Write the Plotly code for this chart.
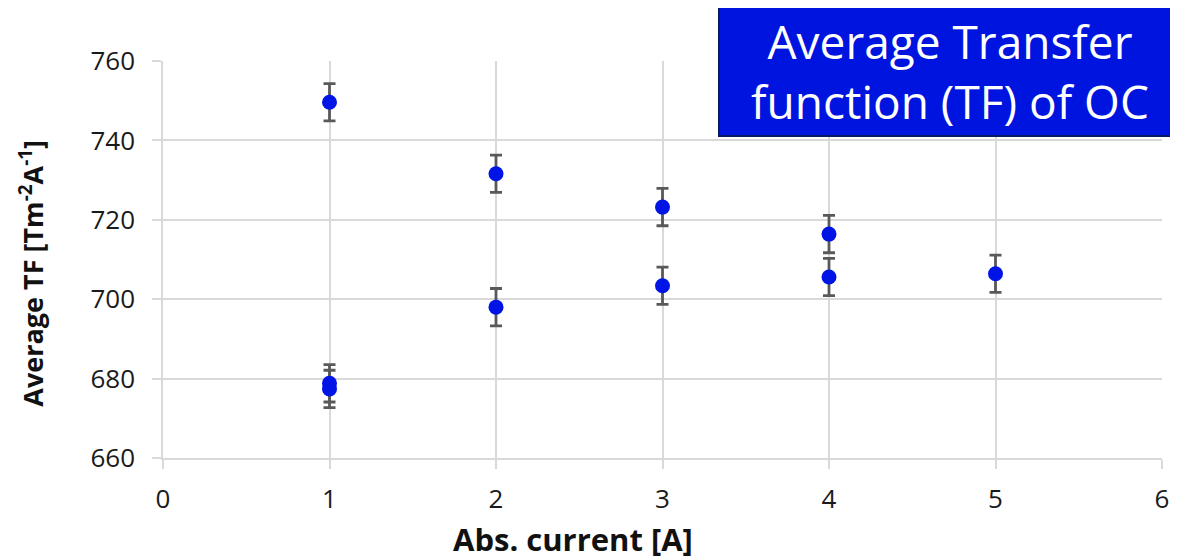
import plotly.graph_objects as go

current = [1, 2, 3, 4, 5, 1, 2, 3, 4, 1]
avg_tf = [749.6, 731.6, 723.2, 716.4, 706.4, 678.8, 698.0, 703.4, 705.6, 677.4]
tf_err = [4.7, 4.7, 4.7, 4.7, 4.7, 4.7, 4.7, 4.7, 4.7, 4.7]

x_ticks = [0, 1, 2, 3, 4, 5, 6]
y_ticks = [660, 680, 700, 720, 740, 760]

font_family = "Open Sans, Noto Sans, Liberation Sans, sans-serif"
grid = "#d9d9d9"

fig = go.Figure()
fig.add_trace(go.Scatter(
    x=current, y=avg_tf, mode="markers",
    marker=dict(color="#0014E6", size=15, line=dict(width=0)),
    error_y=dict(type="data", array=tf_err, visible=True,
                 color="#595959", thickness=2.8, width=6),
    showlegend=False, cliponaxis=False,
))

fig.update_layout(
    width=1170, height=552,
    margin=dict(l=155, r=9, t=53, b=102),
    paper_bgcolor="white", plot_bgcolor="white",
    font=dict(family=font_family, color="#1a1a1a"),
    xaxis=dict(range=[0, 6], tickvals=x_ticks, showgrid=True, gridcolor=grid,
               gridwidth=1.5, zeroline=False, showline=True, linecolor=grid, linewidth=1.5,
               ticks="outside", ticklen=9, tickcolor=grid, tickwidth=1.5,
               ticklabelstandoff=8,
               tickfont=dict(size=26, color="#1a1a1a")),
    yaxis=dict(range=[660, 760], tickvals=y_ticks, showgrid=True, gridcolor=grid,
               gridwidth=1.5, zeroline=False, showline=True, linecolor=grid, linewidth=1.5,
               ticks="outside", ticklen=9, tickcolor=grid, tickwidth=1.5,
               ticklabelstandoff=12,
               tickfont=dict(size=26, color="#1a1a1a")),
    annotations=[
        dict(text="<b>Abs. current [A]</b>", xref="paper", yref="paper",
             x=0.41, y=-0.204, xanchor="center", yanchor="middle", showarrow=False,
             font=dict(size=31, color="#111111", family=font_family)),
        dict(text="<b>Average TF [Tm<sup>-2</sup>A<sup>-1</sup>]</b>", xref="paper", yref="paper",
             x=-0.132, y=0.4647, xanchor="center", yanchor="middle", showarrow=False,
             textangle=-90,
             font=dict(size=27, color="#111111", family=font_family)),
        dict(text="Average Transfer<br>function (TF) of OC",
             xref="paper", yref="paper", x=0.7875, y=0.9736,
             xanchor="center", yanchor="middle", showarrow=False,
             font=dict(size=46, color="white", family=font_family),
             bgcolor="#0014E0", bordercolor="#0a1a60", borderwidth=2,
             width=458, height=126, align="center"),
    ],
)

fig.write_html("out.html")
